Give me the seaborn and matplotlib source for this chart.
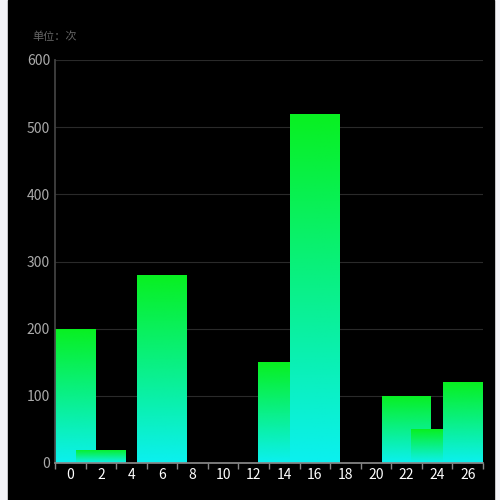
import numpy as np
import matplotlib.pyplot as plt
import seaborn as sns
from matplotlib.colors import LinearSegmentedColormap
from matplotlib.patches import Rectangle

sns.set_theme(style="dark")
plt.rcParams['font.family'] = ['Noto Sans CJK SC', 'DejaVu Sans']

# bar extents on the x scale (ticks 0..26), and heights
bar_left = [-1.0, 0.37, 4.36, 12.3, 14.36, 20.4, 22.3, 24.4]
bar_right = [1.68, 3.64, 7.63, 14.36, 17.6, 23.6, 24.4, 27.0]
bar_height = [200, 20, 280, 150, 520, 100, 50, 120]
tick_values = list(range(0, 28, 2))

fig = plt.figure(figsize=(5, 5), dpi=100, facecolor='#f4f4f8')
fig.patches.append(Rectangle((8 / 500, 0), 486 / 500, 1, transform=fig.transFigure,
                             color='black', zorder=-1))
ax = fig.add_axes([55 / 500, 37 / 500, 428 / 500, 403 / 500])
ax.set_facecolor('black')

cmap = LinearSegmentedColormap.from_list('g', ['#0cf0f0', '#08f020'])
grad = np.linspace(0, 1, 256).reshape(-1, 1)
for x0, x1, h in zip(bar_left, bar_right, bar_height):
    bar = ax.bar(x0, h, width=x1 - x0, align='edge', color='none', linewidth=0)[0]
    im = ax.imshow(grad, cmap=cmap, aspect='auto', origin='lower',
                   extent=[x0, x1, 0, h], zorder=2)
    im.set_clip_path(bar)

ax.set_xlim(-1, 27)
ax.set_ylim(0, 600)
ax.set_xticks(tick_values)
ax.set_xticklabels([str(v) for v in tick_values], color='white', fontsize=10)
ax.set_xticks(range(-1, 28, 2), minor=True)
ax.set_yticks(range(0, 601, 100))
ax.tick_params(axis='y', colors='#aaaaaa', labelsize=10, length=0)
ax.tick_params(axis='x', which='major', length=0, colors='white')
ax.tick_params(axis='x', which='minor', length=4, color='#888888', bottom=True)
ax.grid(axis='y', color='#2a2a2a', linewidth=0.8)
ax.grid(axis='x', visible=False)
ax.set_axisbelow(True)
for s in ['top', 'right']:
    ax.spines[s].set_visible(False)
ax.spines['left'].set_color('#444444')
ax.spines['bottom'].set_color('#888888')

fig.text(32 / 500, 1 - 37 / 500, '单位：次', color='#666666', fontsize=8, va='center')
fig.savefig('out.png', facecolor=fig.get_facecolor())
